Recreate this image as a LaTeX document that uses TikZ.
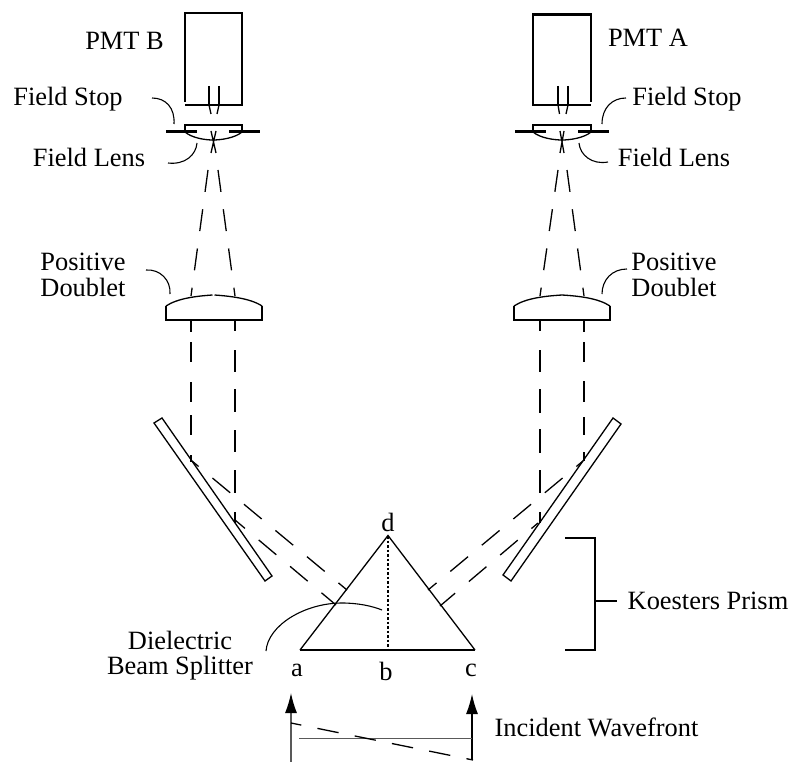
\documentclass[tikz,border=0pt]{standalone}
\usepackage{fontspec}
\setmainfont{Liberation Serif}
\usetikzlibrary{arrows.meta}
\tikzset{
  thickline/.style={line width=2.1pt},
  thinline/.style={line width=1.3pt},
  leader/.style={line width=1.1pt},
  beam/.style={line width=1.3pt, dash pattern=on 22pt off 17.6pt},
  txt/.style={inner sep=0pt, font=\fontsize{26.4}{25.5}\selectfont, align=center},
}
\begin{document}
\begin{tikzpicture}[x=1pt,y=-1pt]
\useasboundingbox (0,0) rectangle (792,762);
% labels
\node[txt] (pmtb) at (124.5,41) {PMT B};
\node[txt] (pmta) at (648,38) {PMT A};
\node[txt] (stopb) at (68,99) {Field Stop};
\node[txt] (stopa) at (687,99) {Field Stop};
\node[txt] (lensb) at (89,157) {Field Lens};
\node[txt] (lensa) at (674,157) {Field Lens};
\node[txt] (doubletb) at (83,275) {Positive\\Doublet};
\node[txt] (doubleta) at (674,275) {Positive\\Doublet};
\node[txt] (splitter) at (180,655.5) {Dielectric\\Beam Splitter};
\node[txt] (koesters) at (708,601) {Koesters Prism};
\node[txt] (wavefront) at (596.5,727) {Incident Wavefront};
\node[txt] (d) at (388,522) {d};
\node[txt] (a) at (297,670) {a};
\node[txt] (b) at (386,671) {b};
\node[txt] (c) at (471,670) {c};
% PMT B
\draw[thickline] (185,102) -- (185,13) -- (243,13) (242,13) -- (242,105) -- (185,105);
\draw[thickline] (209,86) -- (209,105) (219,86) -- (219,105);
\draw[thinline] (209,105) -- (211,114) (219,105) -- (217,114);
% PMT A
\draw[thickline] (591,102) -- (591,14.5) -- (533,14.5) -- (533,105) -- (591,105);
\draw[thickline] (558,86) -- (558,105) (568,86) -- (568,105);
\draw[thinline] (558,105) -- (559.5,114) (568,105) -- (566,114);
% field stop and lens B
\draw[thickline] (166,131.5) -- (197,131.5) (229,131.5) -- (260,131.5);
\draw[thickline] (185,131.5) -- (185,125) -- (242,125) -- (242,131.5);
\draw[thinline] (185,132) .. controls (192,138) and (205,140) .. (213,140) .. controls (221,140) and (235,138) .. (242,132);
\draw[thinline] (211,131) -- (216,153) (216,131) -- (211,153);
% field stop and lens A
\draw[thickline] (515,131.5) -- (546,131.5) (578,131.5) -- (609,131.5);
\draw[thickline] (533,131.5) -- (533,125) -- (591,125) -- (591,131.5);
\draw[thinline] (533,132) .. controls (540,138) and (554,140) .. (562,140) .. controls (570,140) and (584,138) .. (591,132);
\draw[thinline] (560,131) -- (564,153) (564,131) -- (560,153);
% converging rays
\draw[beam] (218,170) -- (235,296);
\draw[beam] (208,170) -- (191,296);
\draw[beam] (567,170) -- (584,296);
\draw[beam] (558,170) -- (540,296);
% doublet B
\draw[thickline] (166,306) -- (166,320) -- (262,320) -- (262,306);
\draw[thinline] (166,306) .. controls (178,298) and (198,296) .. (212.5,295);
\draw[thinline] (214.5,295) .. controls (228,296) and (250,298) .. (262,306);
% doublet A
\draw[thickline] (514,306) -- (514,320) -- (610,320) -- (610,306);
\draw[thinline] (514,306) .. controls (526,298) and (546,296) .. (562,295) .. controls (578,296) and (598,298) .. (610,306);
% parallel beams
\draw[thickline] (191,320) -- (191,332) (191,342) -- (191,362) (191,382) -- (191,402) (191,415) -- (191,435) (191,455) -- (191,462);
\draw[thickline] (235,320) -- (235,331) (235,350) -- (235,372) (235,389) -- (235,412) (235,430) -- (235,452) (235,470) -- (235,493) (235,512) -- (235,523);
\draw[thickline] (540,320) -- (540,331) (540,350) -- (540,372) (540,389) -- (540,413) (540,429) -- (540,453) (540,470) -- (540,493) (540,512) -- (540,523);
\draw[thickline] (584,320) -- (584,332) (584,342) -- (584,362) (584,381) -- (584,402) (584,417) -- (584,435) (584,452) -- (584,461);
% mirrors
\draw[thinline] (162,418) -- (154,423) -- (265,581) -- (272,576) -- cycle;
\draw[thinline] (613,418) -- (621,424) -- (511,581) -- (503,575) -- cycle;
% reflected rays
\draw[thinline, dash pattern=on 23pt off 18pt, dash phase=14.4pt] (192,461) -- (347,590);
\draw[thinline, dash pattern=on 23pt off 18pt, dash phase=10pt] (235,520) -- (336,605);
\draw[thinline, dash pattern=on 23pt off 18pt, dash phase=14.4pt] (583,461) -- (428,590);
\draw[thinline, dash pattern=on 23pt off 18pt, dash phase=14.4pt] (538,523) -- (440,606);
% prism
\draw[thinline] (300,650) -- (388,535.5) -- (475,650);
\draw[thickline] (300,650) -- (475,650);
\draw[line width=1.8pt, dash pattern=on 2.5pt off 2pt] (388,536) -- (388,650);
% bracket
\coordinate (tick) at (595,601);
\draw[thickline] (565,538) -- (595,538) -- (595,650) -- (565,650);
\draw[thickline] (tick) -- (617,601);
% leaders
\draw[leader] (152,98) .. controls (166,98) and (175,108) .. (174,124);
\draw[leader] (168,163) .. controls (185,165) and (196,155) .. (197,143);
\draw[leader] (146,270) .. controls (160,269) and (171,280) .. (170,294);
\draw[leader] (626,98) .. controls (612,98) and (602,108) .. (602,124);
\draw[leader] (608,162) .. controls (592,165) and (580,155) .. (579,143);
\draw[leader] (627,269) .. controls (612,269) and (602,280) .. (602,294);
\draw[leader] (266,651) .. controls (268,625) and (305,603) .. (342,603) .. controls (358,603) and (372,606) .. (382,610);
% wavefront
\draw[thinline, black!65, -{Latex[length=20pt,width=12pt,black]}] (291,762) -- (291,693);
\draw[thinline, -{Latex[length=20pt,width=12pt]}] (472,760) -- (472,694);
\draw[thinline, black!65] (299,738.5) -- (472,738.5);
\draw[thinline, dash pattern=on 21.5pt off 16.5pt, dash phase=11pt] (291,723) -- (473,760);
\end{tikzpicture}
\end{document}
